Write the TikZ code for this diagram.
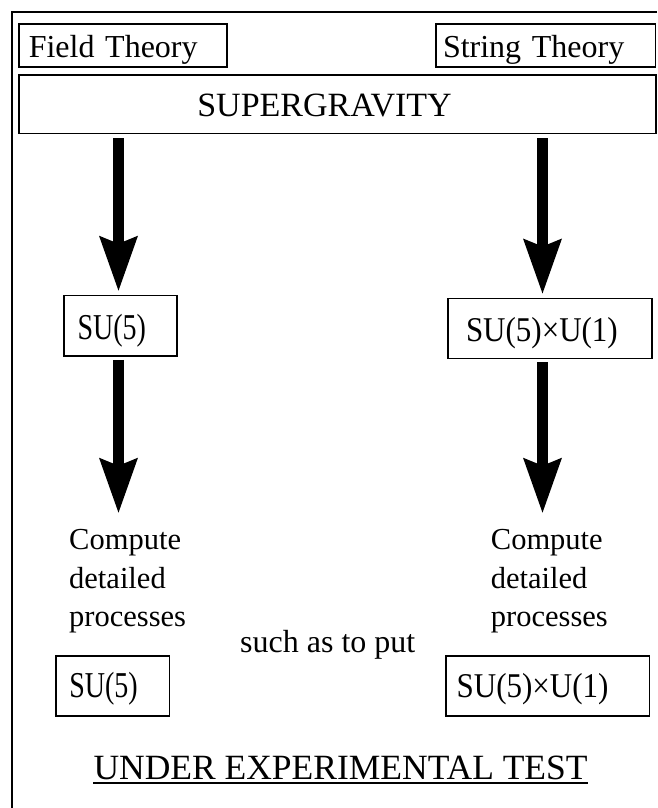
\documentclass[tikz,border=0pt]{standalone}
\usepackage{fontspec}
\setmainfont{Liberation Serif}
\usetikzlibrary{arrows.meta}
\newcommand{\stretchtext}[2]{\scalebox{1}[#1]{#2}}

\begin{document}
\begin{tikzpicture}[x=1pt,y=-1pt,
        box/.style={draw,line width=1.6pt,inner ysep=0pt,align=left},
        bigarrow/.style={line width=11pt,
            -{Stealth[length=55pt,width=39pt,inset=8pt,line width=0pt]},
            shorten <=4pt,shorten >=4pt},
        txt/.style={inner sep=0pt,align=left}]
\useasboundingbox (0,0) rectangle (657,808);
% frame
\draw[line width=2pt] (657,11.7) -- (11.7,11.7) -- (11.7,808);

\node[box,inner xsep=9.6pt,text width=188.5pt,text height=33pt,text depth=10pt,
    font=\fontsize{32}{38}\selectfont] (field) at (123,45.5) {Field Theory};
\node[box,inner xsep=7pt,text width=205.6pt,text height=33pt,text depth=10pt,
    font=\fontsize{32}{38}\selectfont] (string) at (545.8,45.5) {String Theory};
\node[box,inner xsep=178.3pt,text width=280.4pt,text height=41pt,text depth=17.3pt,
    font=\fontsize{34}{40}\selectfont] (sugra) at (337.5,104.15) {SUPERGRAVITY};

\node[box,inner xsep=13.5pt,text width=86pt,text height=43.5pt,text depth=17pt,
    font=\fontsize{28}{34}\selectfont] (sufive) at (120.5,325.75) {\stretchtext{1.3}{SU(5)}};
\node[box,inner xsep=18pt,text width=168pt,text height=43.2pt,text depth=16.8pt,
    font=\fontsize{31}{37}\selectfont] (sufiveu) at (550,328.3) {\stretchtext{1.12}{SU(5)×U(1)}};

\node[txt,anchor=north west,font=\fontsize{30.5}{38.5}\selectfont] (compl) at (69,529.4)
    {Compute\\detailed\\processes};
\node[txt,anchor=north west,font=\fontsize{30.5}{38.5}\selectfont] (compr) at (490.7,529.4)
    {Compute\\detailed\\processes};
\node[txt,anchor=base west,font=\fontsize{32}{38}\selectfont] (such) at (240,652.7)
    {such as to put};

\node[box,inner xsep=13.3pt,text width=86.7pt,text height=41.3pt,text depth=18.7pt,
    font=\fontsize{28}{34}\selectfont] (testl) at (112.65,686) {\stretchtext{1.3}{SU(5)}};
\node[box,inner xsep=10.7pt,text width=182pt,text height=41.3pt,text depth=18.7pt,
    font=\fontsize{31}{37}\selectfont] (testr) at (547.65,686) {\stretchtext{1.12}{SU(5)×U(1)}};

\node[txt,anchor=base west,font=\fontsize{35.5}{42}\selectfont] (undertest) at (93.3,779.3)
    {UNDER EXPERIMENTAL TEST};
\draw[line width=2pt] ([yshift=-4pt]undertest.base west) -- ([yshift=-4pt]undertest.base east);

% arrows
\coordinate (la) at ([xshift=-2pt]sufive.north);
\coordinate (lb) at ([xshift=-2pt]sufive.south);
\coordinate (ra) at ([xshift=-7.5pt]sufiveu.north);
\coordinate (rb) at ([xshift=-7.5pt]sufiveu.south);
\draw[bigarrow] (sugra.south -| la) -- (la);
\draw[bigarrow] (sugra.south -| ra) -- (ra);
\draw[bigarrow,shorten <=3pt,shorten >=16.7pt] (lb) -- (lb |- compl.north);
\draw[bigarrow,shorten <=3pt,shorten >=16.7pt] (rb) -- (rb |- compr.north);

\end{tikzpicture}
\end{document}
